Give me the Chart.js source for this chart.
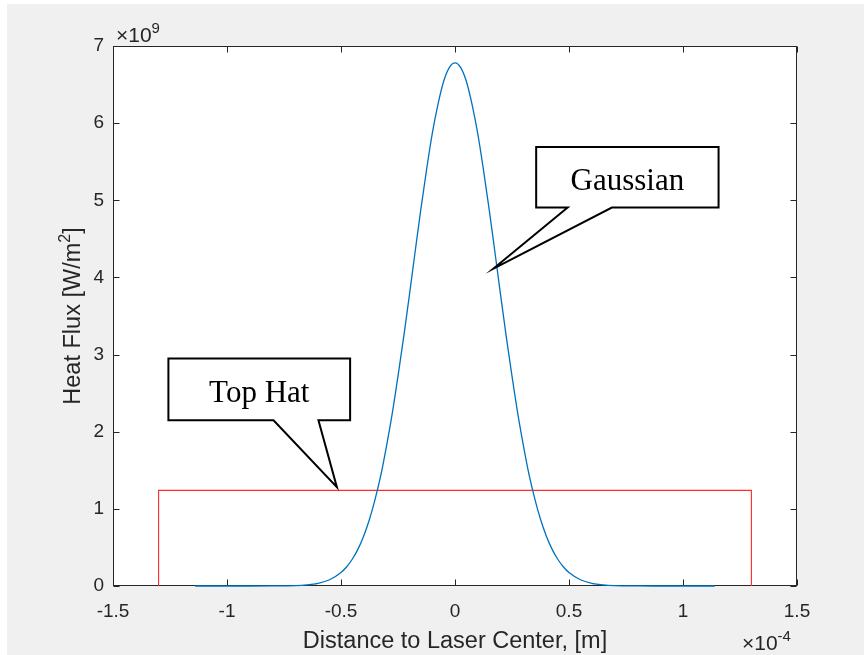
<!DOCTYPE html>
<html>
<head>
<meta charset="utf-8">
<script src="https://cdn.jsdelivr.net/npm/chart.js@4.4.1/dist/chart.umd.min.js"></script>
<style>
    html, body { margin: 0; padding: 0; background: #ffffff; }
    #wrap { width: 864px; height: 655px; }
</style>
</head>
<body>
<div id="wrap"><canvas id="fluxChart" width="864" height="655"></canvas></div>
<script>
// Distance to laser center, x 1e-4 m
const gaussX = [-1.14, -1.0, -0.9, -0.8, -0.7, -0.65, -0.6, -0.55, -0.5, -0.475, -0.45, -0.425, -0.4, -0.375, -0.35, -0.325, -0.3, -0.275, -0.25, -0.225, -0.2, -0.175, -0.15, -0.125, -0.1, -0.075, -0.05, -0.025,
    0, 0.025, 0.05, 0.075, 0.1, 0.125, 0.15, 0.175, 0.2, 0.225, 0.25, 0.275, 0.3, 0.325, 0.35, 0.375, 0.4, 0.425, 0.45, 0.475, 0.5, 0.55, 0.6, 0.65, 0.7, 0.8, 0.9, 1.0, 1.14]
// Heat flux, x 1e9 W/m^2
const gaussY = [0, 0, 0, 0.001, 0.005, 0.014, 0.035, 0.081, 0.174, 0.249, 0.350, 0.481, 0.652, 0.865, 1.13, 1.44, 1.82, 2.24, 2.72, 3.23, 3.77, 4.33, 4.88, 5.39, 5.86, 6.24, 6.54, 6.72,
    6.78, 6.72, 6.54, 6.24, 5.86, 5.39, 4.88, 4.33, 3.77, 3.23, 2.72, 2.24, 1.82, 1.44, 1.13, 0.865, 0.652, 0.481, 0.350, 0.249, 0.174, 0.081, 0.035, 0.014, 0.005, 0.001, 0, 0, 0]

const hatX = [-1.3, -1.3, 1.3, 1.3]
const hatY = [0, 1.24, 1.24, 0]

const xTicks = [-1.5, -1, -0.5, 0, 0.5, 1, 1.5]
const yTicks = [0, 1, 2, 3, 4, 5, 6, 7]

const xTitle = 'Distance to Laser Center, [m]'
const yTitle = ['Heat Flux [W/m', '2', ']']

// Callouts: box corners, pointer base and tip, all in data units
const callouts = [
    { text: 'Top Hat', x0: -1.257, x1: -0.46, y0: 2.948, y1: 2.148, baseL: -0.796, baseR: -0.599, tipX: -0.518, tipY: 1.28 },
    { text: 'Gaussian', x0: 0.356, x1: 1.156, y0: 5.691, y1: 4.905, baseL: 0.494, baseR: 0.688, tipX: 0.169, tipY: 4.115 }
]

const AXIS_COLOR = '#262626'
const SANS = '"Liberation Sans", Arial, Helvetica, sans-serif'
const SERIF = '"Liberation Serif", "Times New Roman", serif'

const toPoints = (xs, ys) => xs.map((x, i) => ({ x: x, y: ys[i] }))

const backgroundPlugin = {
    id: 'matlabBackground',
    beforeDraw(chart) {
        const ctx = chart.ctx
        const area = chart.chartArea
        ctx.save()
        ctx.fillStyle = '#ffffff'
        ctx.fillRect(0, 0, chart.width, chart.height)
        ctx.fillStyle = '#f0f0f0'
        ctx.fillRect(7, 4, chart.width - 7, chart.height - 4)
        ctx.fillStyle = '#ffffff'
        ctx.fillRect(area.left, area.top, area.right - area.left, area.bottom - area.top)
        ctx.restore()
    },
    beforeDatasetsDraw(chart) {
        // box with inward ticks on all four sides
        const ctx = chart.ctx
        const { left, right, top, bottom } = chart.chartArea
        const xs = chart.scales.x
        const ys = chart.scales.y
        const L = Math.round(left) + 0.5, R = Math.round(right) - 0.5
        const T = Math.round(top) + 0.5, B = Math.round(bottom) - 0.5
        const tickLen = 6

        ctx.save()
        ctx.strokeStyle = AXIS_COLOR
        ctx.lineWidth = 1
        ctx.strokeRect(L, T, R - L, B - T)
        ctx.beginPath()
        xTicks.forEach(v => {
            const px = Math.round(xs.getPixelForValue(v)) + 0.5
            ctx.moveTo(px, B); ctx.lineTo(px, B - tickLen)
            ctx.moveTo(px, T); ctx.lineTo(px, T + tickLen)
        })
        yTicks.forEach(v => {
            const py = Math.round(ys.getPixelForValue(v)) + 0.5
            ctx.moveTo(L, py); ctx.lineTo(L + tickLen, py)
            ctx.moveTo(R, py); ctx.lineTo(R - tickLen, py)
        })
        ctx.stroke()
        ctx.restore()
    },
    afterDraw(chart) {
        const ctx = chart.ctx
        const { left, right, top, bottom } = chart.chartArea

        ctx.save()
        ctx.fillStyle = AXIS_COLOR

        // x title
        ctx.font = '23.5px ' + SANS
        ctx.textAlign = 'center'
        ctx.textBaseline = 'alphabetic'
        ctx.fillText(xTitle, (left + right) / 2, 648)

        // y title, rotated, with superscript
        ctx.save()
        ctx.translate(80, (top + bottom) / 2)
        ctx.rotate(-Math.PI / 2)
        ctx.textAlign = 'left'
        ctx.font = '23.5px ' + SANS
        const w0 = ctx.measureText(yTitle[0]).width
        const w2 = ctx.measureText(yTitle[2]).width
        ctx.font = '16px ' + SANS
        const w1 = ctx.measureText(yTitle[1]).width
        let cx = -(w0 + w1 + w2) / 2
        ctx.font = '23.5px ' + SANS
        ctx.fillText(yTitle[0], cx, 0)
        cx += w0
        ctx.font = '16px ' + SANS
        ctx.fillText(yTitle[1], cx, -10)
        cx += w1
        ctx.font = '23.5px ' + SANS
        ctx.fillText(yTitle[2], cx, 0)
        ctx.restore()

        // exponent labels
        ctx.textAlign = 'left'
        ctx.font = '21px ' + SANS
        ctx.fillText('\u00d710', left + 3, top - 4)
        let ew = ctx.measureText('\u00d710').width
        ctx.font = '15px ' + SANS
        ctx.fillText('9', left + 3 + ew, top - 13)

        ctx.font = '21px ' + SANS
        ctx.fillText('\u00d710', right - 55, 650)
        ew = ctx.measureText('\u00d710').width
        ctx.font = '15px ' + SANS
        ctx.fillText('-4', right - 55 + ew, 641)
        ctx.restore()
    }
}

const calloutPlugin = {
    id: 'callouts',
    afterDatasetsDraw(chart) {
        const ctx = chart.ctx
        const xs = chart.scales.x
        const ys = chart.scales.y

        ctx.save()
        callouts.forEach(c => {
            const x0 = xs.getPixelForValue(c.x0), x1 = xs.getPixelForValue(c.x1)
            const y0 = ys.getPixelForValue(c.y0), y1 = ys.getPixelForValue(c.y1)
            const bl = xs.getPixelForValue(c.baseL), br = xs.getPixelForValue(c.baseR)
            const tx = xs.getPixelForValue(c.tipX), ty = ys.getPixelForValue(c.tipY)

            ctx.beginPath()
            ctx.moveTo(x0, y0)
            ctx.lineTo(x1, y0)
            ctx.lineTo(x1, y1)
            ctx.lineTo(br, y1)
            ctx.lineTo(tx, ty)
            ctx.lineTo(bl, y1)
            ctx.lineTo(x0, y1)
            ctx.closePath()
            ctx.fillStyle = '#ffffff'
            ctx.fill()
            ctx.lineWidth = 2
            ctx.lineJoin = 'miter'
            ctx.strokeStyle = '#000000'
            ctx.stroke()

            ctx.fillStyle = '#000000'
            ctx.font = '31px ' + SERIF
            ctx.textAlign = 'center'
            ctx.textBaseline = 'alphabetic'
            ctx.fillText(c.text, (x0 + x1) / 2, (y0 + y1) / 2 + 13)
        })
        ctx.restore()
    }
}

const tickFont = { family: SANS, size: 19 }

const chart = new Chart(document.getElementById('fluxChart'), {
    type: 'line',
    data: {
        datasets: [
            {
                label: 'Gaussian',
                data: toPoints(gaussX, gaussY),
                borderColor: '#0072BD',
                borderWidth: 1.3,
                pointRadius: 0,
                cubicInterpolationMode: 'monotone',
                clip: 4
            },
            {
                label: 'Top Hat',
                data: toPoints(hatX, hatY),
                borderColor: '#ff2a2a',
                borderWidth: 1.1,
                pointRadius: 0,
                tension: 0,
                clip: 4
            }
        ]
    },
    options: {
        responsive: false,
        animation: false,
        events: [],
        layout: { padding: { top: 46, right: 67, left: 0, bottom: 0 } },
        plugins: {
            legend: { display: false },
            tooltip: { enabled: false }
        },
        scales: {
            x: {
                type: 'linear',
                min: -1.5,
                max: 1.5,
                afterBuildTicks: scale => { scale.ticks = xTicks.map(v => ({ value: v })) },
                afterFit: scale => { scale.height = 69 },
                ticks: { font: tickFont, color: AXIS_COLOR, padding: 14, maxRotation: 0, callback: v => String(v) },
                grid: { display: false, drawTicks: false },
                border: { display: false }
            },
            y: {
                type: 'linear',
                min: 0,
                max: 7,
                afterBuildTicks: scale => { scale.ticks = yTicks.map(v => ({ value: v })) },
                afterFit: scale => { scale.width = 113 },
                ticks: { font: tickFont, color: AXIS_COLOR, padding: 9, callback: v => String(v) },
                grid: { display: false, drawTicks: false },
                border: { display: false }
            }
        }
    },
    plugins: [backgroundPlugin, calloutPlugin]
})
</script>
</body>
</html>
